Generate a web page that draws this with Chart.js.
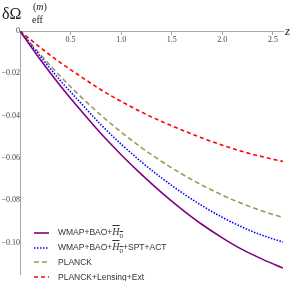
<!DOCTYPE html>
<html>
<head>
<meta charset="utf-8">
<script src="https://cdn.jsdelivr.net/npm/chart.js@4"></script>
<style>
  body { margin: 0; background: #fff; }
  #wrap { position: relative; width: 293px; height: 281px; }
  #title { position: absolute; left: 2px; top: 5px; font: 16px "Liberation Serif", serif; color: #222; white-space: nowrap; }
  #title .sup { position: absolute; left: 31px; top: -4px; font-size: 10px; }
  #title .sub { position: absolute; left: 30px; top: 9px; font-size: 10px; }
  #zlab { position: absolute; left: 285px; top: 23px; font: italic 13px "Liberation Serif", serif; color: #222; }
  #legend { position: absolute; left: 34px; top: 226px; font: 8.5px "Liberation Sans", sans-serif; color: #333; }
  #legend .row { height: 14.5px; display: flex; align-items: center; white-space: nowrap; }
  #legend svg { margin-right: 9px; }
  .hb { font: italic 10px "Liberation Serif", serif; text-decoration: overline; }
  .hb sub { font-style: normal; font-size: 7px; }
</style>
</head>
<body>
<div id="wrap">
  <canvas id="plot"></canvas>
  <div id="title">δΩ<span class="sup">(<i>m</i>)</span><span class="sub">eff</span></div>
  <div id="zlab">z</div>
  <div id="legend"></div>
</div>
<script>
//data
const zVals = [0, 0.2, 0.4, 0.6, 0.8, 1.0, 1.2, 1.4, 1.6, 1.8, 2.0, 2.2, 2.4, 2.6];
const wmapBaoH0 = [0, -0.0135, -0.026, -0.0375, -0.0485, -0.0585, -0.0678, -0.0764, -0.0843, -0.0915, -0.0978, -0.1034, -0.108, -0.1121];
const wmapBaoH0SptAct = [0, -0.012, -0.0235, -0.034, -0.0443, -0.0535, -0.0619, -0.0695, -0.0764, -0.0826, -0.0881, -0.0928, -0.0967, -0.0998];
const planck = [0, -0.011, -0.0215, -0.031, -0.0398, -0.0478, -0.0551, -0.0617, -0.0676, -0.0729, -0.0776, -0.0817, -0.0852, -0.0882];
const planckLensExt = [0, -0.0078, -0.015, -0.0215, -0.0278, -0.0333, -0.0383, -0.0428, -0.0468, -0.0506, -0.054, -0.057, -0.0595, -0.0617];
const xTicks = [0.5, 1.0, 1.5, 2.0, 2.5];
const yTicks = [0, -0.02, -0.04, -0.06, -0.08, -0.10];
const H0 = '<span class="hb">H<sub>0</sub></span>';
const legendLabels = ["WMAP+BAO+" + H0, "WMAP+BAO+" + H0 + "+SPT+ACT", "PLANCK", "PLANCK+Lensing+Ext"];

//styles
const series = [
  { data: wmapBaoH0, color: "#800080", dash: [], width: 1.6 },
  { data: wmapBaoH0SptAct, color: "#0000ff", dash: [1.5, 1.5], width: 1.6 },
  { data: planck, color: "#a0965a", dash: [5, 3], width: 1.6 },
  { data: planckLensExt, color: "#ff0000", dash: [4, 3], width: 1.6 },
];

const datasets = series.map((s) => ({
  data: zVals.map((z, i) => ({ x: z, y: s.data[i] })),
  borderColor: s.color,
  borderDash: s.dash,
  borderWidth: s.width,
  pointRadius: 0,
  cubicInterpolationMode: "monotone",
  fill: false,
}));

//legend
const legend = document.getElementById("legend");
series.forEach((s, i) => {
  const row = document.createElement("div");
  row.className = "row";
  row.innerHTML =
    '<svg width="15" height="4"><line x1="0" y1="2" x2="15" y2="2" stroke="' + s.color +
    '" stroke-width="' + s.width + '" stroke-dasharray="' + (s.dash.length ? s.dash.join(",") : "none") +
    '"/></svg><span>' + legendLabels[i] + "</span>";
  legend.appendChild(row);
});

const axisColor = "#a8a8a8";
const tickFont = { family: "Liberation Serif", size: 8 };

new Chart(document.getElementById("plot"), {
  type: "line",
  data: { datasets: datasets },
  options: {
    responsive: true,
    maintainAspectRatio: false,
    animation: false,
    layout: { padding: { left: 20, top: 31, right: 10, bottom: 0 } },
    plugins: { legend: { display: false }, tooltip: { enabled: false } },
    scales: {
      x: {
        type: "linear",
        min: 0,
        max: 2.6,
        position: { y: 0 },
        border: { color: axisColor, width: 1 },
        grid: { drawOnChartArea: false, color: axisColor, tickLength: 3 },
        afterBuildTicks: (axis) => { axis.ticks = xTicks.map((v) => ({ value: v })); },
        ticks: { font: tickFont, color: "#444", padding: 1, maxRotation: 0, callback: (v) => Number(v).toFixed(1) },
      },
      y: {
        type: "linear",
        min: -0.115,
        max: 0,
        position: { x: 0 },
        border: { color: axisColor, width: 1 },
        grid: { drawOnChartArea: false, color: axisColor, tickLength: 0 },
        afterBuildTicks: (axis) => { axis.ticks = yTicks.map((v) => ({ value: v })); },
        ticks: { font: tickFont, color: "#444", padding: 2, callback: (v) => (v === 0 ? "0" : "\u2212" + Math.abs(v).toFixed(2)) },
      },
    },
  },
});
</script>
</body>
</html>
